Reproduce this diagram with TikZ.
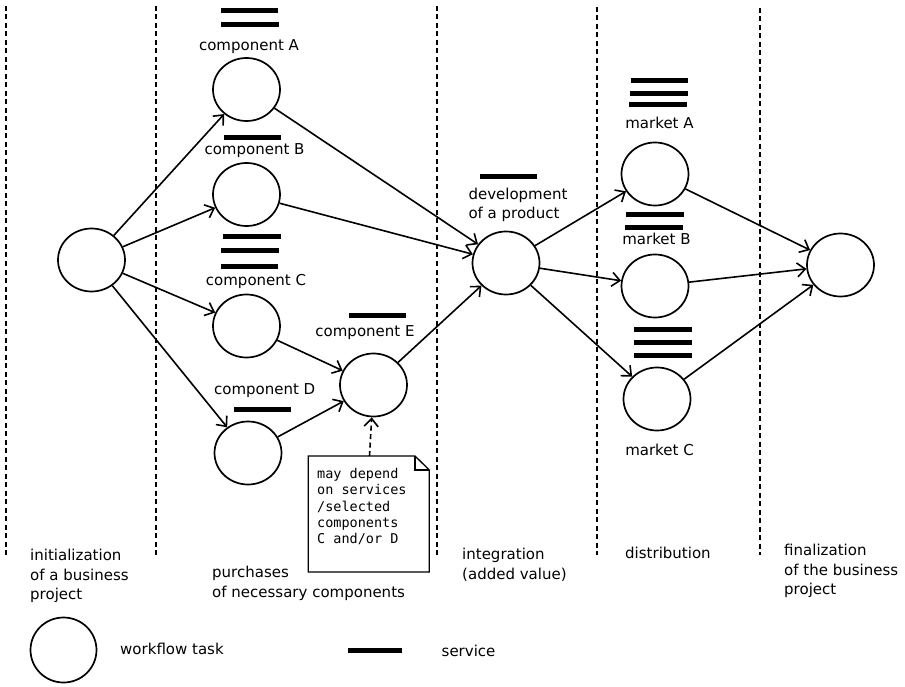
\documentclass[tikz,border=0pt]{standalone}
\usepackage{fontspec}
\setmainfont{DejaVu Sans}
\setmonofont{DejaVu Sans Mono}
\usetikzlibrary{arrows.meta,shapes.geometric}
\begin{document}
\begin{tikzpicture}[x=1pt,y=-1pt,
  task/.style={ellipse,draw,line width=1.7pt,minimum width=67pt,minimum height=63pt,inner sep=0pt},
  flow/.style={-{Straight Barb[length=8pt,width=14pt]},line width=1.6pt},
  hint/.style={-{Straight Barb[length=8pt,width=14pt]},line width=1.6pt,dash pattern=on 5pt off 3.5pt},
  svc/.style={line width=5pt},
  lane/.style={line width=1.8pt,dash pattern=on 5pt off 3.5pt},
  lbl/.style={font=\fontsize{15}{19.5}\selectfont,inner sep=0pt},
  phase/.style={lbl,anchor=west,align=left},
  memo/.style={font=\ttfamily\fontsize{13.5}{16.3}\selectfont,inner sep=0pt,anchor=north west,align=left}]
\useasboundingbox (0,0) rectangle (905,687);

% phase separators
\foreach \x/\t in {6/6,156/6,437/6,597/7,760/8}
  \draw[lane] (\x,\t) -- (\x,555);

% workflow tasks
\node[task] (start) at (91.5,260) {};
\node[task] (cA) at (246.5,89.5) {};
\node[task] (cB) at (246.5,194.5) {};
\node[task] (cC) at (246.5,326) {};
\node[task] (cD) at (248,453) {};
\node[task] (cE) at (373.5,385) {};
\node[task] (dev) at (506,263) {};
\node[task] (mA) at (655,174) {};
\node[task] (mB) at (655,286) {};
\node[task] (mC) at (657,399) {};
\node[task] (fin) at (840.5,265) {};

% task labels
\node[lbl] (lA) at (249,46.7) {component A};
\node[lbl] (lB) at (254.5,150.7) {component B};
\node[lbl] (lC) at (256,281) {component C};
\node[lbl] (lD) at (264.7,390.7) {component D};
\node[lbl] (lE) at (365,332.7) {component E};
\node[lbl,anchor=west,align=left] (ldev) at (468.3,205) {development\\of a product};
\node[lbl] (lmA) at (659.5,122.7) {market A};
\node[lbl] (lmB) at (656.5,239.3) {market B};
\node[lbl] (lmC) at (659.5,450) {market C};

% services
\draw[svc] (220.7,10.7) -- (278.3,10.7);
\draw[svc] (221,24.7) -- (279,24.7);
\draw[svc] (224,138) -- (281,138);
\draw[svc] (222.7,236.7) -- (280.7,236.7);
\draw[svc] (221,251) -- (279,251);
\draw[svc] (220.7,266.5) -- (278.3,266.5);
\draw[svc] (234,409) -- (291,409);
\draw[svc] (349,315.7) -- (406,315.7);
\draw[svc] (480,176.7) -- (537.3,176.7);
\draw[svc] (630.7,80.7) -- (688.3,80.7);
\draw[svc] (630,93.3) -- (688,93.3);
\draw[svc] (629.3,105) -- (686.7,105);
\draw[svc] (626,214.3) -- (684,214.3);
\draw[svc] (625,227.7) -- (683.3,227.7);
\draw[svc] (634.3,329) -- (691.7,329);
\draw[svc] (634.3,342.7) -- (691.7,342.7);
\draw[svc] (634.3,355.7) -- (691.7,355.7);

% flow
\draw[flow] (start) -- (cA);
\draw[flow] (start) -- (cB);
\draw[flow] (start) -- (cC);
\draw[flow] (start) -- (cD);
\draw[flow] (cA) -- (dev);
\draw[flow] (cB) -- (dev);
\draw[flow] (cC) -- (cE);
\draw[flow] (cD) -- (cE);
\draw[flow] (cE) -- (dev);
\draw[flow] (dev) -- (mA);
\draw[flow] (dev) -- (mB);
\draw[flow] (dev) -- (mC);
\draw[flow] (mA) -- (fin);
\draw[flow] (mB) -- (fin);
\draw[flow] (mC) -- (fin);

% note with folded corner
\draw[line width=1.3pt,fill=white] (308.3,456) -- (415,456) -- (429.3,470) -- (429.3,572) -- (308.3,572) -- cycle;
\draw[line width=1.1pt] (415,456) -- (415,470) -- (429.3,470);
\node[memo] (note) at (317,468) {may depend\\on services\\/selected\\components\\C and/or D};
\coordinate (notetop) at (369.5,456);
\draw[hint] (notetop) -- (cE);

% phase names
\node[phase] (p1) at (30,576) {initialization\\of a business\\project};
\node[phase] (p2) at (212,583.5) {purchases\\of necessary components};
\node[phase] (p3) at (462,565) {integration\\(added value)};
\node[phase] (p4) at (625,553) {distribution};
\node[phase] (p5) at (784,571) {finalization\\of the business\\project};

% legend
\node[task,minimum width=66pt,minimum height=65pt] (legtask) at (63.5,650) {};
\node[lbl,anchor=west] (legtasktxt) at (120,649) {workflow task};
\draw[svc] (348,650.7) -- (402,650.7);
\node[lbl,anchor=west] (legsvctxt) at (441.5,651) {service};
\end{tikzpicture}
\end{document}
